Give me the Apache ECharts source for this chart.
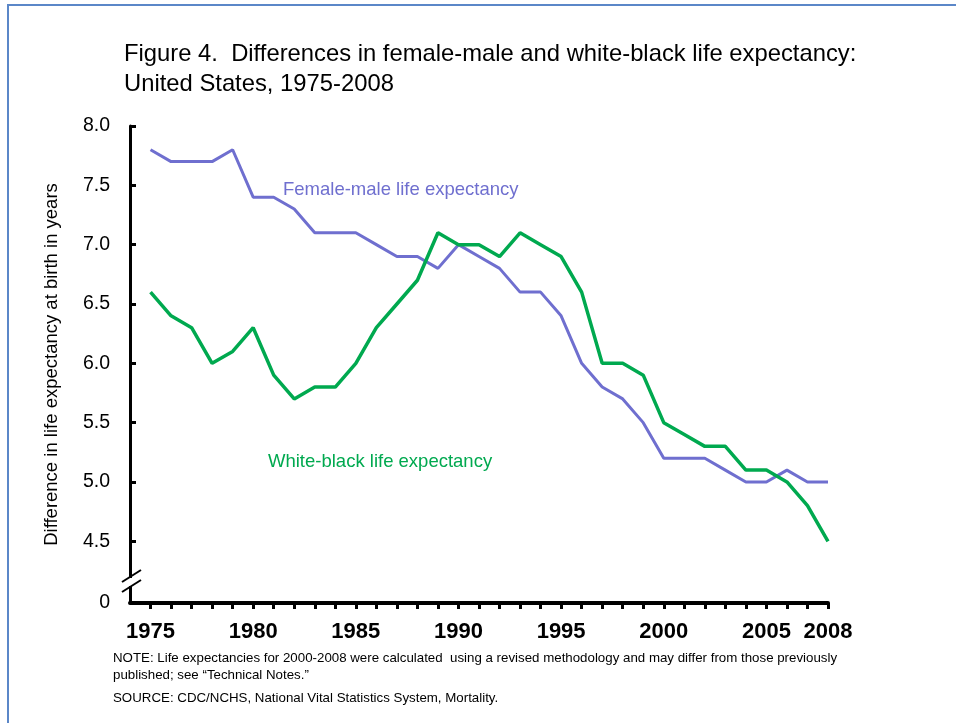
<!DOCTYPE html>
<html>
<head>
<meta charset="utf-8">
<script src="https://cdn.jsdelivr.net/npm/echarts@6/dist/echarts.min.js"></script>
<style>
html,body{margin:0;padding:0;background:#fff;}
#chart{width:956px;height:723px;}
</style>
</head>
<body>
<div id="chart"></div>
<script>
var years = [1975,1976,1977,1978,1979,1980,1981,1982,1983,1984,1985,1986,1987,1988,1989,1990,1991,1992,1993,1994,1995,1996,1997,1998,1999,2000,2001,2002,2003,2004,2005,2006,2007,2008];
var femaleMale = [7.8,7.7,7.7,7.7,7.8,7.4,7.4,7.3,7.1,7.1,7.1,7.0,6.9,6.9,6.8,7.0,6.9,6.8,6.6,6.6,6.4,6.0,5.8,5.7,5.5,5.2,5.2,5.2,5.1,5.0,5.0,5.1,5.0,5.0];
var whiteBlack = [6.6,6.4,6.3,6.0,6.1,6.3,5.9,5.7,5.8,5.8,6.0,6.3,6.5,6.7,7.1,7.0,7.0,6.9,7.1,7.0,6.9,6.6,6.0,6.0,5.9,5.5,5.4,5.3,5.3,5.1,5.1,5.0,4.8,4.5];
var yTickValues = [4.5,5.0,5.5,6.0,6.5,7.0,7.5,8.0];
var xLabelYears = [1975,1980,1985,1990,1995,2000,2005,2008];
var yBase = 3.98; // broken-axis bottom, labelled "0"

var chart = echarts.init(document.getElementById('chart'));
var font = 'Liberation Sans, Arial, sans-serif';
var purple = '#6f6fcf';
var green = '#00a94f';

function pairs(vals){ return years.map(function(y,i){ return [y, vals[i]]; }); }

chart.setOption({
  animation: false,
  backgroundColor: '#fff',
  textStyle: {fontFamily: font},
  title: [
    {text: 'Figure 4.  Differences in female-male and white-black life expectancy:\nUnited States, 1975-2008',
     left: 119, top: 34, textStyle: {fontFamily: font, fontSize: 23.8, fontWeight: 'normal', color: '#000', lineHeight: 30}},
    {text: 'NOTE: Life expectancies for 2000-2008 were calculated  using a revised methodology and may differ from those previously\npublished; see \u201cTechnical Notes.\u201d',
     left: 108, top: 645, textStyle: {fontFamily: font, fontSize: 13.3, fontWeight: 'normal', color: '#000', lineHeight: 17}},
    {text: 'SOURCE: CDC/NCHS, National Vital Statistics System, Mortality.',
     left: 108, top: 687, textStyle: {fontFamily: font, fontSize: 13.3, fontWeight: 'normal', color: '#000'}}
  ],
  grid: {left: 130, right: 128, top: 126, bottom: 120, containLabel: false},
  xAxis: {
    type: 'value', min: 1974, max: 2008,
    splitLine: {show: false},
    axisLine: {show: true, onZero: false, lineStyle: {color: '#000', width: 4}},
    axisTick: {show: true, inside: false, length: 6, lineStyle: {color: '#000', width: 3}, customValues: years},
    axisLabel: {show: true, customValues: xLabelYears, formatter: function(v){ return String(v); },
      fontFamily: font, fontSize: 22, fontWeight: 'bold', color: '#000', margin: 18}
  },
  yAxis: {
    type: 'value', min: yBase, max: 8.0,
    name: 'Difference in life expectancy at birth in years',
    nameLocation: 'middle', nameGap: 69, nameRotate: 90,
    nameTextStyle: {fontFamily: font, fontSize: 18.5, color: '#000'},
    splitLine: {show: false},
    axisLine: {show: true, onZero: false, lineStyle: {color: '#000', width: 3}},
    axisTick: {show: true, inside: true, length: 6, lineStyle: {color: '#000', width: 3}, customValues: yTickValues},
    axisLabel: {show: true, customValues: [yBase].concat(yTickValues),
      formatter: function(v){ return v < 4 ? '0' : v.toFixed(1); },
      fontFamily: font, fontSize: 19.5, color: '#000', margin: 20}
  },
  series: [
    {name: 'Female-male life expectancy', type: 'line', data: pairs(femaleMale), showSymbol: false, symbol: 'none',
     lineStyle: {color: purple, width: 3}, itemStyle: {color: purple}, z: 3},
    {name: 'White-black life expectancy', type: 'line', data: pairs(whiteBlack), showSymbol: false, symbol: 'none',
     lineStyle: {color: green, width: 3.5}, itemStyle: {color: green}, z: 4}
  ],
  graphic: [
    {type: 'rect', shape: {x: 8, y: 5, width: 1200, height: 1200}, style: {fill: 'none', stroke: '#5b87c8', lineWidth: 2}, z: 100, silent: true},
    {type: 'text', left: 283, top: 180, style: {text: 'Female-male life expectancy', fill: purple, font: '18.5px ' + font}, z: 10},
    {type: 'text', left: 268, top: 452, style: {text: 'White-black life expectancy', fill: green, font: '18.5px ' + font}, z: 10},
    {type: 'rect', shape: {x: 126, y: 578, width: 8, height: 8}, style: {fill: '#fff'}, z: 50},
    {type: 'line', shape: {x1: 122, y1: 582, x2: 141, y2: 570}, style: {stroke: '#000', lineWidth: 2}, z: 60},
    {type: 'line', shape: {x1: 122, y1: 592, x2: 141, y2: 580}, style: {stroke: '#000', lineWidth: 2}, z: 60}
  ]
});
</script>
</body>
</html>
